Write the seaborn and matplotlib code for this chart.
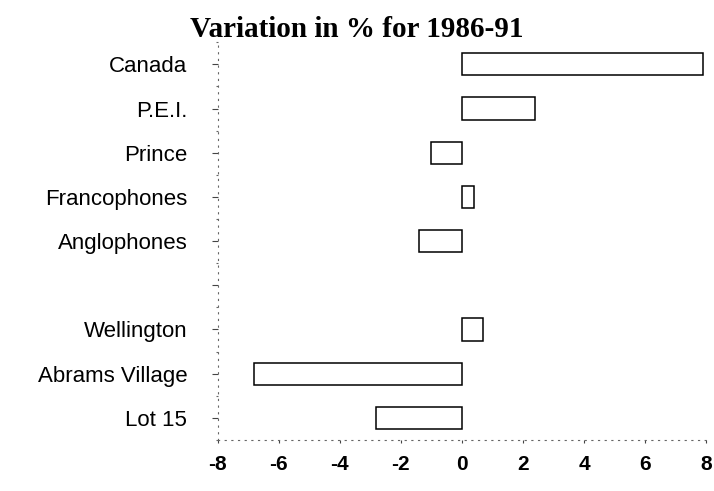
import matplotlib
matplotlib.use("Agg")
from matplotlib import pyplot as plt
from matplotlib.ticker import MultipleLocator
import pandas as pd
import numpy as np
import seaborn as sns

# data
regions = ["Canada", "P.E.I.", "Prince", "Francophones", "Anglophones", " ",
           "Wellington", "Abrams Village", "Lot 15"]
variation = [7.9, 2.4, -1.0, 0.4, -1.4, np.nan, 0.7, -6.8, -2.8]
x_ticks = [-8, -6, -4, -2, 0, 2, 4, 6, 8]
title = "Variation in % for 1986-91"

df = pd.DataFrame({"Region": regions, "Variation": variation})

sns.set_style("white")
plt.rcParams["font.family"] = ["Liberation Sans", "DejaVu Sans"]
plt.rcParams.update({"text.color": "black", "xtick.color": "black",
                     "ytick.color": "black"})

fig = plt.figure(figsize=(7.14, 4.91), dpi=100)
ax = fig.add_axes([0.305, 0.104, 0.684, 0.81])

sns.barplot(data=df.dropna(), x="Variation", y="Region", order=regions,
            orient="h", color="white", edgecolor="black", linewidth=1.1,
            width=0.5, ax=ax)

ax.set_xlim(-8, 8)
ax.set_ylim(len(regions) - 0.5, -0.5)
ax.set_xticks(x_ticks)
ax.set_xticklabels([str(t) for t in x_ticks], fontsize=15, fontweight="bold")
ax.set_yticks(range(len(regions)))
ax.set_yticklabels(regions, fontsize=16)
ax.yaxis.set_minor_locator(MultipleLocator(0.5))
ax.set_xlabel("")
ax.set_ylabel("")

# faint dotted axes like the scanned original
for side in ["top", "right"]:
    ax.spines[side].set_visible(False)
for side in ["left", "bottom"]:
    ax.spines[side].set_linestyle((0, (1, 5)))
    ax.spines[side].set_color("#666666")
    ax.spines[side].set_linewidth(0.8)

ax.tick_params(axis="y", which="major", left=True, length=4, width=0.8,
               color="#444444", pad=18)
ax.tick_params(axis="y", which="minor", left=True, length=1.5, width=0.8,
               color="#666666")
ax.tick_params(axis="x", which="major", bottom=True, length=2, width=0.8,
               color="#444444", pad=9)

fig.suptitle(title, x=0.5, y=0.968, fontsize=21, fontweight="bold",
             family=["Liberation Serif", "DejaVu Serif"])

plt.savefig("out.png", dpi=100)
